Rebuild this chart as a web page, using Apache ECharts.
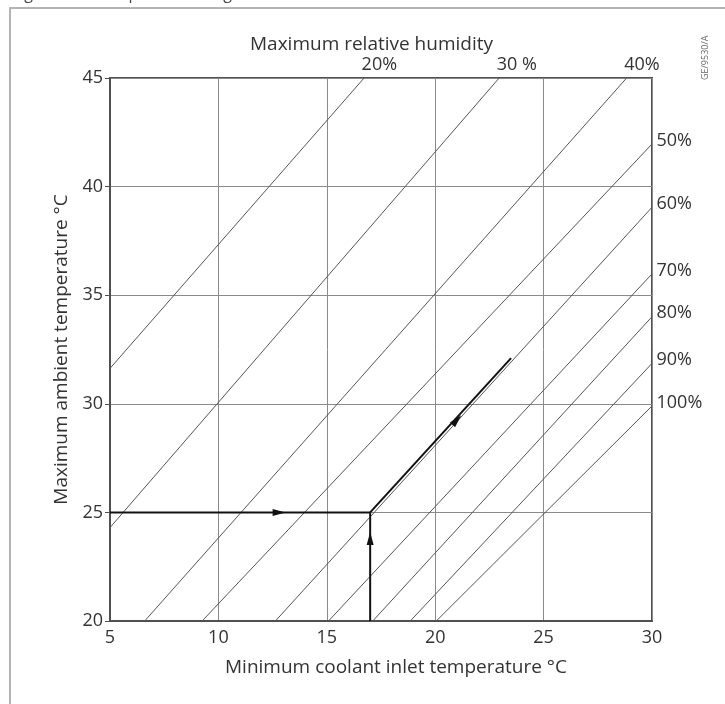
<!DOCTYPE html>
<html>
<head>
<meta charset="utf-8">
<script src="https://cdn.jsdelivr.net/npm/echarts@6/dist/echarts.min.js"></script>
<style>
  html, body { margin: 0; padding: 0; background: #fff; }
  #chart { width: 725px; height: 704px; }
</style>
</head>
<body>
<div id="chart"></div>
<script>
// ---- data ----
const xTicks = [5, 10, 15, 20, 25, 30];
const yTicks = [20, 25, 30, 35, 40, 45];
const rhLabels = ['20%', '30 %', '40%', '50%', '60%', '70%', '80%', '90%', '100%'];
const rhStartX = [5, 5, 6.60, 9.25, 12.63, 15.08, 17.12, 18.85, 20.05];
const rhStartY = [31.63, 24.3, 20, 20, 20, 20, 20, 20, 20];
const rhEndX = [16.72, 22.95, 28.83, 30, 30, 30, 30, 30, 30];
const rhEndY = [45, 45, 45, 41.96, 39.05, 35.98, 34.01, 31.86, 29.9];
const pathInX = [5, 17];          // horizontal path at ambient 25
const pathInY = [25, 25];
const pathUpX = [17, 17];         // vertical path at coolant 17
const pathUpY = [20, 25];
const pathDiagX = [17, 23.5];     // diagonal continuation
const pathDiagY = [25, 32.1];
const arrowX = [12.8, 17, 21.0];
const arrowY = [25, 23.8, 29.25];
const arrowDir = ['right', 'up', 'diag'];

const xTitle = 'Minimum coolant inlet temperature °C';
const yTitle = 'Maximum ambient temperature °C';
const topTitle = 'Maximum relative humidity';
const figCaption = 'Figure 2 — Temperature range';
const figCode = 'GE/9530/A';

// ---- build ----
const FONT = '"Open Sans", "Noto Sans", sans-serif';
const TXT = '#333';
const chart = echarts.init(document.getElementById('chart'), null, { renderer: 'canvas' });

const zip = (xs, ys) => xs.map((x, i) => [x, ys[i]]);

const series = [];
rhLabels.forEach((lab, i) => {
  series.push({
    type: 'line', silent: true, symbol: 'none', animation: false, z: 3,
    lineStyle: { color: '#555', width: 1 },
    data: [[rhStartX[i], rhStartY[i]], [rhEndX[i], rhEndY[i]]]
  });
});
series.push({
  type: 'scatter', silent: true, animation: false, symbolSize: 1,
  itemStyle: { color: 'rgba(0,0,0,0)', opacity: 1 }, z: 5,
  data: rhLabels.map((lab, i) => {
    const top = rhEndY[i] >= 45;
    return {
      value: [rhEndX[i], rhEndY[i]],
      label: {
        show: true, formatter: lab,
        position: top ? [-2, -13] : [5, -3],
        align: 'left', verticalAlign: 'middle',
        fontFamily: FONT, fontSize: 18, color: TXT
      }
    };
  })
});
const pathStyle = { color: '#111', width: 2 };
[[pathInX, pathInY], [pathUpX, pathUpY], [pathDiagX, pathDiagY]].forEach(p => {
  series.push({ type: 'line', silent: true, symbol: 'none', animation: false, z: 6,
    lineStyle: pathStyle, data: zip(p[0], p[1]) });
});
const rotFor = { right: -90, up: 0, diag: -42.4 };
series.push({
  type: 'scatter', silent: true, animation: false, z: 7,
  symbol: 'triangle', symbolSize: [7, 13], symbolKeepAspect: true,
  itemStyle: { color: '#111', opacity: 1 },
  data: arrowX.map((x, i) => ({ value: [x, arrowY[i]], symbolRotate: rotFor[arrowDir[i]] }))
});

chart.setOption({
  animation: false,
  backgroundColor: '#fff',
  grid: { left: 110, right: 73, top: 78, bottom: 83, show: true, borderColor: '#505050', borderWidth: 2, containLabel: false },
  title: {
    text: topTitle, left: 245, top: 30,
    textStyle: { fontFamily: FONT, fontSize: 19, fontWeight: 'normal', color: TXT }
  },
  xAxis: {
    type: 'value', min: xTicks[0], max: xTicks[xTicks.length - 1], interval: 5,
    name: xTitle, nameLocation: 'middle', nameGap: 37,
    nameTextStyle: { fontFamily: FONT, fontSize: 19, color: TXT, padding: [0, 0, 0, 30] },
    axisLine: { show: true, lineStyle: { color: '#505050', width: 2 } },
    axisTick: { show: false },
    axisLabel: { margin: 8, fontFamily: FONT, fontSize: 18, color: TXT },
    splitLine: { show: true, lineStyle: { color: '#8a8a8a', width: 1 } }
  },
  yAxis: {
    type: 'value', min: yTicks[0], max: yTicks[yTicks.length - 1], interval: 5,
    name: yTitle, nameLocation: 'middle', nameGap: 39,
    nameTextStyle: { fontFamily: FONT, fontSize: 19, color: TXT },
    axisLine: { show: true, lineStyle: { color: '#505050', width: 2 } },
    axisTick: { show: true, inside: false, length: 5, lineStyle: { color: '#505050', width: 1 } },
    axisLabel: { margin: 7, fontFamily: FONT, fontSize: 18, color: TXT },
    splitLine: { show: true, lineStyle: { color: '#8a8a8a', width: 1 } }
  },
  graphic: [
    { type: 'rect', shape: { x: 10, y: 8, width: 900, height: 900 }, style: { fill: 'none', stroke: '#b4b4b4', lineWidth: 2 }, z: -1 },
    { type: 'text', x: 12, y: -14, style: { text: figCaption, fontFamily: FONT, fontSize: 16, fill: '#444' } },
    { type: 'text', x: 701, y: 80, rotation: Math.PI / 2, style: { text: figCode, fontFamily: FONT, fontSize: 9, fill: '#666' } }
  ],
  series: series
});
</script>
</body>
</html>
